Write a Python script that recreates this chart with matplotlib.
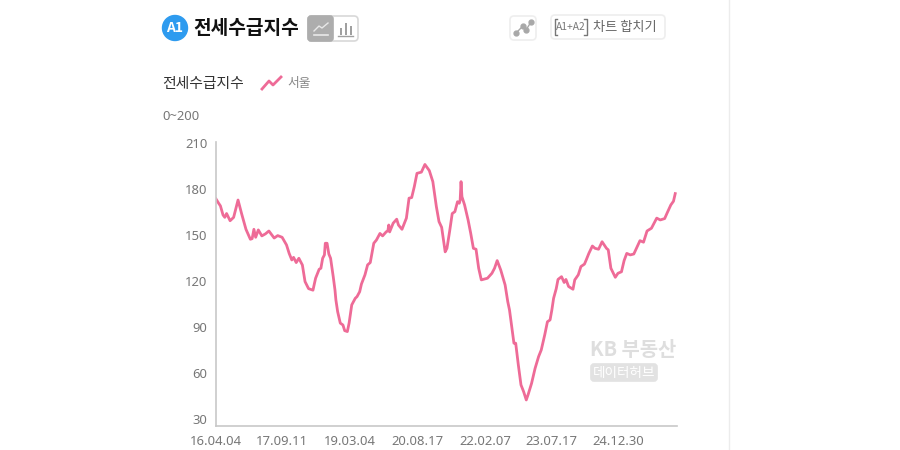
# -*- coding: utf-8 -*-
import matplotlib
matplotlib.use('Agg')
import matplotlib.pyplot as plt
from matplotlib.patches import Circle, FancyBboxPatch

plt.rcParams['font.family'] = ['Noto Sans CJK KR', 'DejaVu Sans']

# weeks since 16.04.04
weeks = [0, 3, 5, 8, 10, 12, 16, 20, 25, 29, 34, 39, 41, 43, 45, 48, 52, 56, 60, 66, 70, 75,
         80, 83, 86, 88, 91, 94, 98, 101, 105, 110, 113, 117, 119, 121, 123, 124, 126, 128,
         130, 133, 135, 136, 138, 141, 144, 146, 149, 151, 154, 158, 160, 163, 165, 169, 172,
         175, 179, 182, 186, 189, 193, 195, 196, 197, 201, 205, 207, 211, 216, 219, 222, 225,
         228, 233, 237, 242, 246, 250, 253, 256, 260, 262, 265, 268, 271, 274, 276, 277, 278,
         279, 282, 286, 289, 292, 295, 298, 301, 308, 313, 316, 319, 323, 328, 331, 333, 335,
         338, 340, 343, 346, 349, 352, 354, 358, 362, 366, 369, 373, 376, 379, 381, 383, 386,
         388, 392, 395, 397, 400, 405, 407, 411, 414, 418, 420, 423, 427, 430, 434, 438, 443,
         445, 448, 453, 456, 460, 463, 466, 470, 474, 481, 485, 489, 494, 500, 504, 509, 512,
         516, 519, 521]
seoul = [173.5, 170.7, 169, 163, 161.5, 164, 159.3, 161.5, 172.8, 164, 153.7, 147.2, 147.6,
         153.7, 148.5, 153.3, 149.4, 150.7, 152.6, 148, 149.6, 148.5,
         143.5, 138, 133.7, 135.4, 132, 134.8, 130.4, 119.6, 115, 114, 121.8, 127.6, 128.3,
         134.8, 137, 144.6, 144.6, 137.6,
         134.8, 122.8, 114, 107.7, 100, 92.5, 91.3, 87.6, 87, 92.5, 104.4, 108.7, 109.8, 113,
         118, 124, 130.5,
         132, 144.6, 146.7, 151, 149.4, 152, 152.8, 156.5, 152, 157.7, 160.3, 156.5, 153.7,
         161, 174, 174.4, 181.6,
         190.2, 191, 196, 192, 184.8, 168.5, 158.7, 155, 139, 141.3, 152.2, 164, 165.2, 171.7,
         170.7, 172.8, 184.8,
         175, 169.6, 159.8, 151, 141.3, 140.7, 128.3, 120.7, 121.8, 125, 128.3, 133.3, 127.2,
         117.4, 106.5, 101, 92.5,
         79.4, 79.4, 65.2, 52.2, 47.8, 42.4, 45.7, 53.2, 63, 70.7, 75, 85, 93.4, 94.6, 101,
         108.7, 115,
         121, 122.8, 119, 121, 116.4, 114.6, 120.7, 124, 129.4, 131, 133.7, 138, 142.8, 141.3,
         140.7, 145.6, 141.3,
         140.3, 128.3, 122.4, 125, 126, 133.3, 138, 137, 137.6, 146.3, 145.3, 152.6, 154.4,
         161, 159.8, 160.7, 164.6,
         169.6, 172, 177]
tick_weeks = [0, 75, 152, 228, 305, 380, 456]
tick_dates = ['16.04.04', '17.09.11', '19.03.04', '20.08.17', '22.02.07', '23.07.17', '24.12.30']
y_ticks = [30, 60, 90, 120, 150, 180, 210]

PINK = '#ee6b97'
W, H = 900, 450
fig = plt.figure(figsize=(W / 100, H / 100), dpi=100)

# chart area
ax = fig.add_axes([216 / W, 1 - 426 / H, (677 - 216) / W, (426 - 142) / H])
ax.patch.set_alpha(0)
ax.plot(weeks, seoul, color=PINK, lw=2, solid_joinstyle='round')
ax.set_xlim(0, 523)
ax.set_ylim(25.4, 210.65)
ax.set_yticks(y_ticks)
ax.set_xticks(tick_weeks)
ax.set_xticklabels(tick_dates)
ax.tick_params(length=0, labelsize=9.4, labelcolor='#777777')
ax.tick_params(axis='y', pad=6)
ax.tick_params(axis='x', pad=6.5)
for lab in ax.get_xticklabels() + ax.get_yticklabels():
    lab.set_family('Noto Sans')
for s in ['top', 'right']:
    ax.spines[s].set_visible(False)
for s in ['left', 'bottom']:
    ax.spines[s].set_color('#c8c8c8')
    ax.spines[s].set_linewidth(1.2)

# page decoration in pixel coordinates
ui = fig.add_axes([0, 0, 1, 1], zorder=-1)
ui.set_xlim(0, W)
ui.set_ylim(H, 0)
ui.axis('off')

def box(x0, y0, x1, y1, fc='white', ec='#e2e2e2', r=4, lw=1.2):
    ui.add_patch(FancyBboxPatch((x0 + r, y0 + r), x1 - x0 - 2 * r, y1 - y0 - 2 * r,
                                boxstyle='round,pad=%d' % r, fc=fc, ec=ec, lw=lw))

ui.plot([729, 729], [0, 450], color='#ececec', lw=1)

ui.add_patch(Circle((175, 28), 12.5, color='#2e9bef'))
ui.text(175, 28, 'A1', color='white', size=10, weight='bold', ha='center', va='center')
ui.text(193, 28, '전세수급지수', color='#111111', size=13.8, weight='bold', va='center')

# line / bar toggle
box(308, 16, 358, 41, ec='#d8d8d8')
box(308, 16, 333, 41, fc='#adadad', ec='#adadad', r=3)
ui.plot([314, 319, 322, 328], [31, 26, 28, 23], color='#e8e8e8', lw=1)
ui.plot([314, 328], [35, 35], color='#e8e8e8', lw=1.2)
ui.bar([341, 346, 351], [-7, -12, -9], bottom=[35, 35, 35], width=2.5, color='#a0a0a0')
ui.plot([338, 353], [36, 36], color='#a0a0a0', lw=1)
ui.set_ylim(H, 0)

# right buttons
box(510, 16, 536, 40, ec='#eeeeee')
ui.plot([516, 523, 526, 531], [33, 26, 30, 22], color='#a8a8a8', lw=1,
        marker='o', ms=3.5, mfc='#a8a8a8', mec='#a8a8a8')
box(551, 15, 665, 39, ec='#eeeeee')
ui.text(570.5, 27, 'A1+A2', color='#777777', size=7.4, ha='center', va='center')
ui.plot([557, 554.5, 554.5, 557], [19, 19, 35, 35], color='#777777', lw=1)
ui.plot([584, 586.5, 586.5, 584], [19, 19, 35, 35], color='#777777', lw=1)
ui.text(593, 27, '차트 합치기', color='#666666', size=9.5, weight='medium', va='center')

# legend row
ui.text(162, 84, '전세수급지수', color='#333333', size=10.7, weight='medium', va='center')
ui.plot([262, 269, 273, 281], [89, 81, 85, 77], color=PINK, lw=2)
ui.text(287, 84, '서울', color='#888888', size=9.2, va='center')
ui.text(162, 117, '0~200', color='#777777', size=9.4, family='Noto Sans', va='center')

# watermark
ui.text(590, 349, 'KB 부동산', color='#dedede', size=14.3, weight='bold', va='center')
box(591, 364, 657, 381, fc='#e2e2e2', ec='#e2e2e2', r=3)
ui.text(624, 372.5, '데이터허브', color='white', size=9.8, ha='center', va='center')

fig.savefig('out.png', dpi=100)
